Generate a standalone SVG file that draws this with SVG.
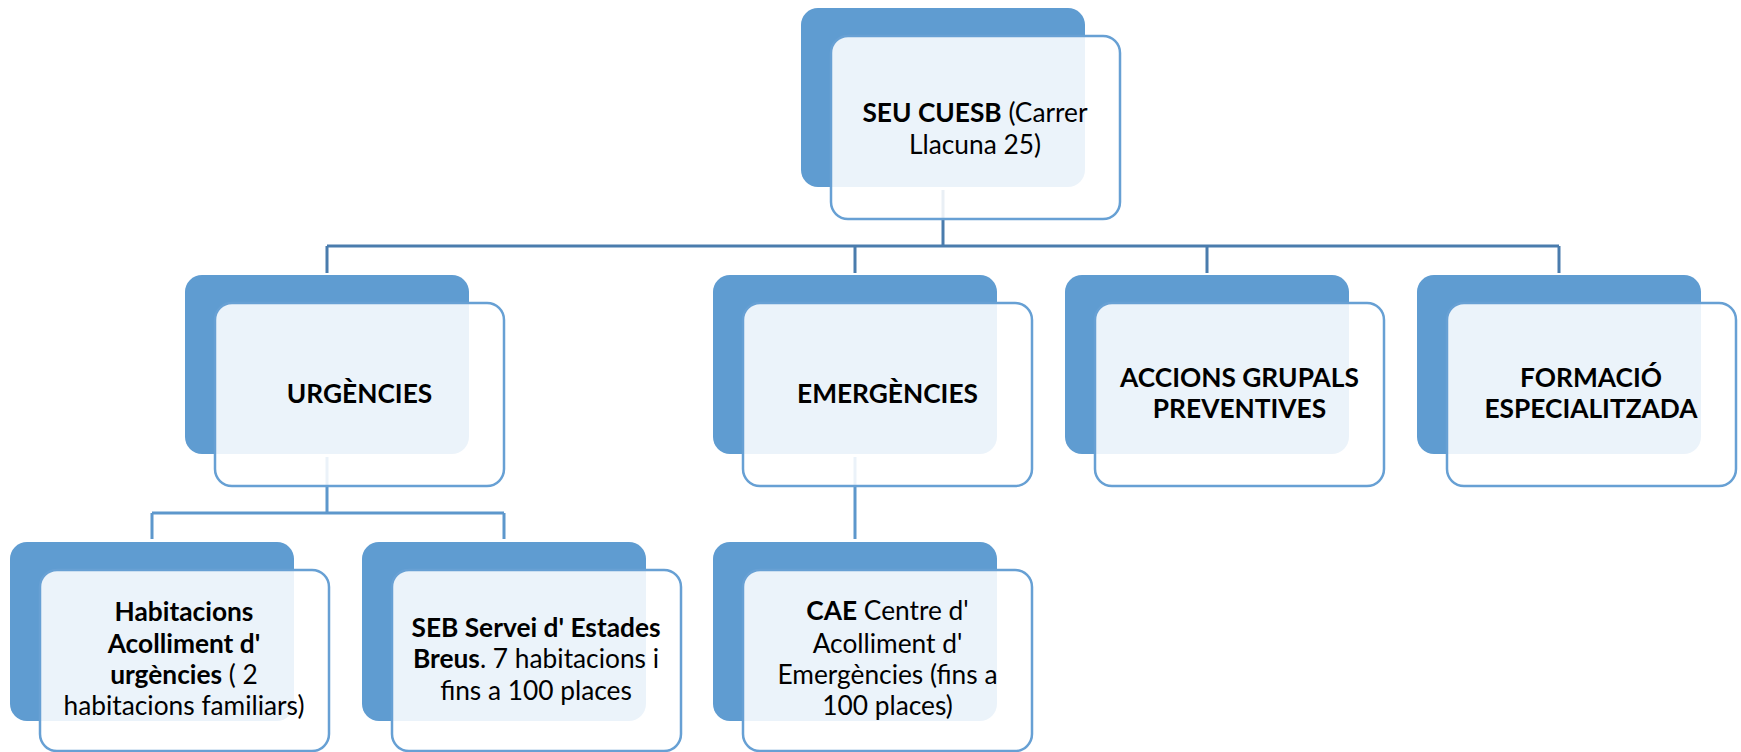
<svg xmlns="http://www.w3.org/2000/svg" width="1741" height="752" viewBox="0 0 1741 752">
<style>
.dk{fill:#5f9cd1}
.lt{fill:#ffffff;fill-opacity:0.88;stroke:#67a0d4;stroke-width:2.5}
.c1{stroke:#4a7cad;stroke-width:3;fill:none}
.c2{stroke:#5d97cc;stroke-width:3;fill:none}
text{font-family:Lato,"Liberation Sans",sans-serif;font-size:26.3px;fill:#000;text-anchor:middle}
.b{font-weight:bold}
</style>
<rect width="1741" height="752" fill="#ffffff"/>
<g id="connectors">
<path class="c1" d="M943,190V246M327,246H1559M327,246V273M855,246V273M1207,246V273M1559,246V273"/>
<path class="c2" d="M327,457V513M152,513H504M152,513V539M504,513V539M855,457V539"/>
</g>
<g id="node-seu">
<rect class="dk" x="801" y="8" width="284" height="179" rx="17"/>
<rect class="lt" x="831" y="36" width="289" height="183" rx="17"/>
<text x="975" y="122"><tspan class="b">SEU CUESB</tspan> (Carrer</text>
<text x="975" y="154">Llacuna 25)</text>
</g>
<g id="node-urgencies">
<rect class="dk" x="185" y="275" width="284" height="179" rx="17"/>
<rect class="lt" x="215" y="303" width="289" height="183" rx="17"/>
<text class="b" x="359.5" y="403">URGÈNCIES</text>
</g>
<g id="node-emergencies">
<rect class="dk" x="713" y="275" width="284" height="179" rx="17"/>
<rect class="lt" x="743" y="303" width="289" height="183" rx="17"/>
<text class="b" x="887.5" y="403">EMERGÈNCIES</text>
</g>
<g id="node-accions">
<rect class="dk" x="1065" y="275" width="284" height="179" rx="17"/>
<rect class="lt" x="1095" y="303" width="289" height="183" rx="17"/>
<text class="b" x="1239.5" y="387">ACCIONS GRUPALS</text>
<text class="b" x="1239.5" y="418">PREVENTIVES</text>
</g>
<g id="node-formacio">
<rect class="dk" x="1417" y="275" width="284" height="179" rx="17"/>
<rect class="lt" x="1447" y="303" width="289" height="183" rx="17"/>
<text class="b" x="1591" y="387">FORMACIÓ</text>
<text class="b" x="1591" y="418">ESPECIALITZADA</text>
</g>
<g id="node-habitacions">
<rect class="dk" x="10" y="542" width="284" height="179" rx="17"/>
<rect class="lt" x="40" y="570" width="289" height="181" rx="17"/>
<text class="b" x="184" y="621">Habitacions</text>
<text class="b" x="184" y="653">Acolliment d'</text>
<text x="184" y="684"><tspan class="b">urgències</tspan> ( 2</text>
<text x="184" y="715">habitacions familiars)</text>
</g>
<g id="node-seb">
<rect class="dk" x="362" y="542" width="284" height="179" rx="17"/>
<rect class="lt" x="392" y="570" width="289" height="181" rx="17"/>
<text class="b" x="536" y="637">SEB Servei d' Estades</text>
<text x="536" y="668"><tspan class="b">Breus</tspan>. 7 habitacions i</text>
<text x="536" y="700">fins a 100 places</text>
</g>
<g id="node-cae">
<rect class="dk" x="713" y="542" width="284" height="179" rx="17"/>
<rect class="lt" x="743" y="570" width="289" height="181" rx="17"/>
<text x="887.5" y="620"><tspan class="b">CAE</tspan> Centre d'</text>
<text x="887.5" y="653">Acolliment d'</text>
<text x="887.5" y="684">Emergències (fins a</text>
<text x="887.5" y="715">100 places)</text>
</g>
</svg>
